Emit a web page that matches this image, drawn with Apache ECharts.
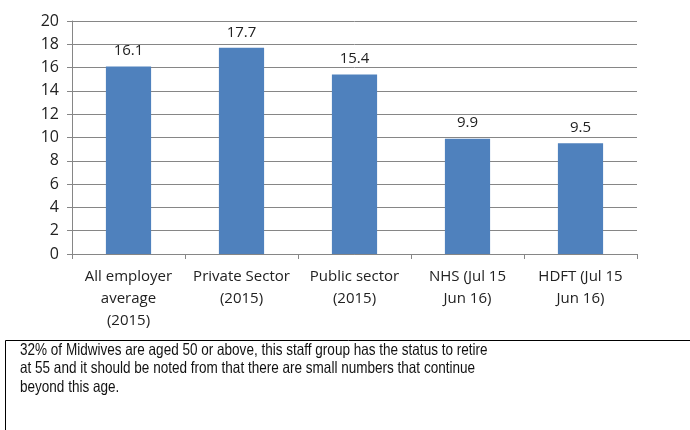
<!DOCTYPE html>
<html>
<head>
<meta charset="utf-8">
<script src="https://cdn.jsdelivr.net/npm/echarts@6/dist/echarts.min.js"></script>
<style>
  html, body { margin: 0; padding: 0; background: #fff; }
  #chart { width: 690px; height: 430px; }
</style>
</head>
<body>
<div id="chart"></div>
<script>
// Average years of service by employer group
const categories = [
  'All employer\naverage\n(2015)',
  'Private Sector\n(2015)',
  'Public sector\n(2015)',
  'NHS (Jul 15\nJun 16)',
  'HDFT (Jul 15\nJun 16)'
];
const values = [16.1, 17.7, 15.4, 9.9, 9.5];
const yTicks = { min: 0, max: 20, interval: 2 };
const noteText = '32% of Midwives are aged 50 or above, this staff group has the status to retire\n' +
  'at 55 and it should be noted from that there are small numbers that continue\n' +
  'beyond this age.';

const chart = echarts.init(document.getElementById('chart'), null, { renderer: 'canvas' });
chart.setOption({
  animation: false,
  backgroundColor: '#ffffff',
  grid: { left: 72, top: 21, width: 565, height: 233 },
  xAxis: {
    type: 'category',
    data: categories,
    axisLine: { lineStyle: { color: '#868686', width: 1 } },
    axisTick: { show: true, length: 5, lineStyle: { color: '#868686' } },
    axisLabel: {
      color: '#222',
      fontFamily: '"Open Sans"',
      fontSize: 15,
      lineHeight: 22,
      margin: 12,
      interval: 0
    }
  },
  yAxis: {
    type: 'value',
    min: yTicks.min,
    max: yTicks.max,
    interval: yTicks.interval,
    axisLine: { show: true, lineStyle: { color: '#868686', width: 1 } },
    axisTick: { show: true, length: 5, lineStyle: { color: '#868686' } },
    splitLine: { lineStyle: { color: '#868686', width: 1 } },
    axisLabel: {
      color: '#222',
      fontFamily: '"Open Sans"',
      fontSize: 16,
      margin: 13
    }
  },
  series: [{
    type: 'bar',
    data: values,
    barWidth: '40%',
    itemStyle: { color: '#4F81BD' },
    label: {
      show: true,
      position: 'top',
      distance: 8,
      color: '#222',
      fontFamily: '"Open Sans"',
      fontSize: 15
    }
  }],
  graphic: [
    {
      type: 'rect',
      shape: { x: 5.5, y: 340.5, width: 700, height: 120 },
      style: { fill: '#fff', stroke: '#000', lineWidth: 1 }
    },
    {
      // condensed note text (horizontally squeezed sans)
      type: 'text',
      x: 20,
      y: 341,
      scaleX: 0.82,
      style: {
        text: noteText,
        fill: '#111',
        font: '16.5px "Liberation Sans"',
        lineHeight: 18.5,
        verticalAlign: 'top'
      }
    }
  ]
});
</script>
</body>
</html>
